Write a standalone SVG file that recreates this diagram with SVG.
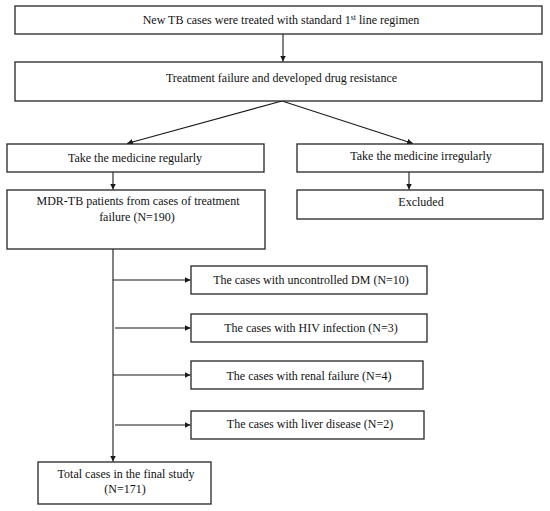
<svg xmlns="http://www.w3.org/2000/svg" width="550" height="511" viewBox="0 0 550 511">
<style>
.box{fill:#fff;stroke:#262626;stroke-width:1.3}
.t{font-family:"Liberation Serif","Times New Roman",serif;font-size:12px;fill:#111;text-anchor:middle}
.c{fill:none;stroke:#1a1a1a;stroke-width:1.1}
</style>
<defs>
<marker id="ah" viewBox="0 0 10 10" refX="10" refY="5" markerWidth="6" markerHeight="6" markerUnits="userSpaceOnUse" orient="auto">
<path d="M0,0 L10,5 L0,10 z" fill="#1a1a1a"/>
</marker>
</defs>
<rect width="550" height="511" fill="#fff"/>
<g id="connectors">
<line class="c" x1="283" y1="34" x2="283" y2="61.5" marker-end="url(#ah)"/>
<line class="c" x1="282" y1="101" x2="127" y2="143.5" marker-end="url(#ah)"/>
<line class="c" x1="282" y1="101" x2="413" y2="143.5" marker-end="url(#ah)"/>
<line class="c" x1="113" y1="172" x2="113" y2="189.5" marker-end="url(#ah)"/>
<line class="c" x1="409" y1="172" x2="409" y2="189.5" marker-end="url(#ah)"/>
<line class="c" x1="113" y1="249" x2="113" y2="461.5" marker-end="url(#ah)"/>
<line class="c" x1="113" y1="280" x2="190.5" y2="280" marker-end="url(#ah)"/>
<line class="c" x1="115" y1="328" x2="190.5" y2="328" marker-end="url(#ah)"/>
<line class="c" x1="113" y1="375" x2="190.5" y2="375" marker-end="url(#ah)"/>
<line class="c" x1="115" y1="425" x2="190.5" y2="425" marker-end="url(#ah)"/>
</g>
<g id="n1"><rect class="box" x="15" y="6" width="527" height="28"/>
<text class="t" x="281" y="23.5">New TB cases were treated with standard 1<tspan font-size="8" dy="-4">st</tspan><tspan dy="4"> line regimen</tspan></text></g>
<g id="n2"><rect class="box" x="15" y="62" width="527" height="39"/>
<text class="t" x="281.5" y="82">Treatment failure and developed drug resistance</text></g>
<g id="n3"><rect class="box" x="7" y="144" width="257" height="28"/>
<text class="t" x="135" y="162">Take the medicine regularly</text></g>
<g id="n4"><rect class="box" x="297" y="144" width="246" height="28"/>
<text class="t" x="421" y="160">Take the medicine irregularly</text></g>
<g id="n5"><rect class="box" x="7" y="190" width="258" height="59"/>
<text class="t" x="138" y="205">MDR-TB patients from cases of treatment</text>
<text class="t" x="137" y="221">failure (N=190)</text></g>
<g id="n6"><rect class="box" x="297" y="190" width="246" height="29"/>
<text class="t" x="421" y="206">Excluded</text></g>
<g id="n7"><rect class="box" x="191" y="266" width="236" height="28"/>
<text class="t" x="311" y="284">The cases with uncontrolled DM (N=10)</text></g>
<g id="n8"><rect class="box" x="191" y="314" width="236" height="28"/>
<text class="t" x="311" y="332">The cases with HIV infection (N=3)</text></g>
<g id="n9"><rect class="box" x="191" y="361" width="232" height="28"/>
<text class="t" x="309" y="380">The cases with renal failure (N=4)</text></g>
<g id="n10"><rect class="box" x="191" y="411" width="233" height="28"/>
<text class="t" x="310" y="428">The cases with liver disease (N=2)</text></g>
<g id="n11"><rect class="box" x="38" y="462" width="173" height="42"/>
<text class="t" x="126" y="478">Total cases in the final study</text>
<text class="t" x="125" y="493">(N=171)</text></g>
</svg>
